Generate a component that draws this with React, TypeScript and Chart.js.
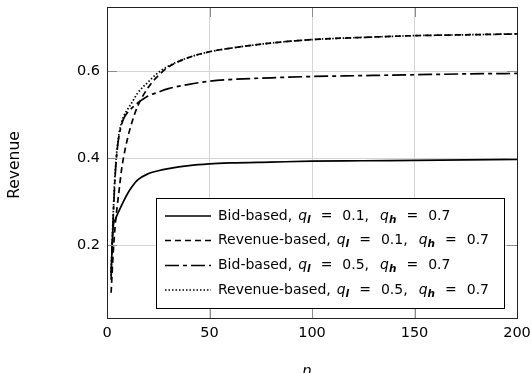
import React, { useEffect, useRef } from "react";
import { Chart, registerables } from "chart.js";

Chart.register(...registerables);

const nValues = [2, 3, 4, 5, 6, 7, 8, 10, 12, 15, 20, 25, 30, 40, 50, 60, 80, 100, 125, 150, 175, 200];
const bidLow = [0.135, 0.242, 0.258, 0.27, 0.28, 0.29, 0.3, 0.318, 0.333, 0.35, 0.364, 0.371, 0.376, 0.383, 0.387, 0.389, 0.391, 0.393, 0.394, 0.395, 0.396, 0.397];
const revLow = [0.09, 0.18, 0.245, 0.29, 0.33, 0.37, 0.4, 0.445, 0.48, 0.52, 0.562, 0.59, 0.61, 0.632, 0.645, 0.653, 0.665, 0.673, 0.678, 0.682, 0.684, 0.686];
const bidHigh = [0.12, 0.26, 0.36, 0.42, 0.455, 0.475, 0.49, 0.505, 0.515, 0.527, 0.543, 0.552, 0.56, 0.57, 0.577, 0.581, 0.585, 0.588, 0.59, 0.592, 0.594, 0.595];
const revHigh = [0.13, 0.27, 0.37, 0.425, 0.46, 0.48, 0.495, 0.512, 0.527, 0.55, 0.575, 0.597, 0.612, 0.632, 0.645, 0.653, 0.665, 0.673, 0.678, 0.682, 0.684, 0.686];

const xTicks = [0, 50, 100, 150, 200];
const yTicks = [0.2, 0.4, 0.6];

const seriesLabels = [
  { name: "Bid-based", ql: "0.1", qh: "0.7" },
  { name: "Revenue-based", ql: "0.1", qh: "0.7" },
  { name: "Bid-based", ql: "0.5", qh: "0.7" },
  { name: "Revenue-based", ql: "0.5", qh: "0.7" },
];

const FONT = "'DejaVu Sans', sans-serif";
const dashes = [[], [6, 4], [14, 4, 4, 4], [1.5, 2]];

const extrasPlugin = {
  id: "extras",
  afterDraw(chart: any) {
    const ctx = chart.ctx;
    const a = chart.chartArea;
    const xs = chart.scales.x;
    const ys = chart.scales.y;
    ctx.save();
    ctx.strokeStyle = "#8c8c8c";
    ctx.lineWidth = 1;
    const tl = 10;
    xTicks.forEach((t) => {
      const px = Math.round(xs.getPixelForValue(t)) + 0.5;
      ctx.beginPath();
      ctx.moveTo(px, a.bottom);
      ctx.lineTo(px, a.bottom - tl);
      ctx.moveTo(px, a.top);
      ctx.lineTo(px, a.top + tl);
      ctx.stroke();
    });
    yTicks.forEach((t) => {
      const py = Math.round(ys.getPixelForValue(t)) + 0.5;
      ctx.beginPath();
      ctx.moveTo(a.left, py);
      ctx.lineTo(a.left + tl, py);
      ctx.moveTo(a.right, py);
      ctx.lineTo(a.right - tl, py);
      ctx.stroke();
    });
    ctx.strokeStyle = "#222";
    ctx.lineWidth = 1;
    ctx.strokeRect(Math.round(a.left) + 0.5, Math.round(a.top) + 0.5, Math.round(a.right - a.left), Math.round(a.bottom - a.top));

    ctx.fillStyle = "#000";
    ctx.font = `15.5px ${FONT}`;
    ctx.textAlign = "center";
    ctx.textBaseline = "middle";
    ctx.save();
    ctx.translate(15, 165);
    ctx.rotate(-Math.PI / 2);
    ctx.fillText("Revenue", 0, 0);
    ctx.restore();
    ctx.font = `italic 15px ${FONT}`;
    ctx.textBaseline = "top";
    ctx.fillText("n", 307, 365);

    const lx = 156.5, ly = 198.5, lw = 348, lh = 110;
    ctx.fillStyle = "#fff";
    ctx.fillRect(lx, ly, lw, lh);
    ctx.strokeStyle = "#000";
    ctx.lineWidth = 1;
    ctx.strokeRect(lx, ly, lw, lh);
    const rows = [216, 240.5, 265.5, 290];
    const gap = 10;
    seriesLabels.forEach((s, i) => {
      const y = rows[i];
      ctx.save();
      ctx.strokeStyle = "#000";
      ctx.lineWidth = 1.6;
      ctx.setLineDash(dashes[i]);
      ctx.beginPath();
      ctx.moveTo(165, y);
      ctx.lineTo(211, y);
      ctx.stroke();
      ctx.restore();
      const parts: [string, string, number, number][] = [
        [s.name + ",", `14px ${FONT}`, 0, 6],
        ["q", `italic 14px ${FONT}`, 0, 0],
        ["l", `bold italic 10.5px ${FONT}`, 4, gap],
        ["=", `14px ${FONT}`, 0, gap],
        [s.ql + ",", `14px ${FONT}`, 0, gap + 1],
        ["q", `italic 14px ${FONT}`, 0, 0],
        ["h", `bold italic 10.5px ${FONT}`, 4, gap],
        ["=", `14px ${FONT}`, 0, gap],
        [s.qh, `14px ${FONT}`, 0, 0],
      ];
      let x = 218;
      ctx.fillStyle = "#000";
      ctx.textAlign = "left";
      ctx.textBaseline = "middle";
      parts.forEach(([t, f, dy, after]) => {
        ctx.font = f;
        ctx.fillText(t, x, y + dy);
        x += ctx.measureText(t).width + after;
      });
    });
    ctx.restore();
  },
};

export default function App() {
  const ref = useRef<HTMLCanvasElement | null>(null);
  useEffect(() => {
    if (!ref.current) return;
    Chart.defaults.font.family = FONT;
    const mk = (arr: number[]) => nValues.map((n, i) => ({ x: n, y: arr[i] }));
    const all = [bidLow, revLow, bidHigh, revHigh];
    const chart = new Chart(ref.current, {
      type: "line",
      data: {
        datasets: all.map((arr, i) => ({
          label: seriesLabels[i].name,
          data: mk(arr),
          borderColor: "#000",
          borderWidth: 1.7,
          borderDash: dashes[i],
          pointRadius: 0,
          fill: false,
          cubicInterpolationMode: "monotone" as const,
        })),
      },
      options: {
        animation: false,
        responsive: false,
        devicePixelRatio: 1,
        layout: { padding: { top: 7, right: 15, left: 0, bottom: 0 } },
        plugins: { legend: { display: false }, tooltip: { enabled: false } },
        scales: {
          x: {
            type: "linear",
            min: 0,
            max: 200,
            afterBuildTicks: (s: any) => {
              s.ticks = xTicks.map((v) => ({ value: v }));
            },
            afterFit: (s: any) => {
              s.height = 55;
              s.paddingLeft = 0;
              s.paddingRight = 0;
              s.paddingTop = 0;
              s.paddingBottom = 0;
            },
            ticks: { color: "#000", font: { size: 14.5, family: FONT }, padding: 7, maxRotation: 0 },
            grid: { color: "#d4d4d4", drawTicks: false },
            border: { display: false },
          },
          y: {
            type: "linear",
            min: 0.032,
            max: 0.748,
            afterBuildTicks: (s: any) => {
              s.ticks = yTicks.map((v) => ({ value: v }));
            },
            afterFit: (s: any) => {
              s.width = 107;
              s.paddingLeft = 0;
              s.paddingRight = 0;
              s.paddingTop = 0;
              s.paddingBottom = 0;
            },
            ticks: {
              color: "#000",
              font: { size: 14.5, family: FONT },
              padding: 7,
              callback: (v: any) => Number(v).toFixed(1),
            },
            grid: { color: "#d4d4d4", drawTicks: false },
            border: { display: false },
          },
        },
      },
      plugins: [extrasPlugin],
    });
    return () => chart.destroy();
  }, []);
  return (
    <div style={{ position: "absolute", left: 0, top: 0, width: 532, height: 373, background: "#fff" }}>
      <canvas ref={ref} width={532} height={373} />
    </div>
  );
}
